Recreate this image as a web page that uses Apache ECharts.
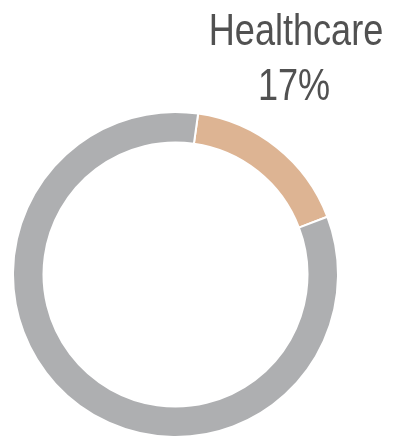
<!DOCTYPE html>
<html>
<head>
<meta charset="utf-8">
<script src="https://cdn.jsdelivr.net/npm/echarts@6/dist/echarts.min.js"></script>
<style>
  html, body { margin: 0; padding: 0; background: #ffffff; }
  #chart { width: 400px; height: 438px; }
</style>
</head>
<body>
<div id="chart"></div>
<script>
// Sector share: highlighted sector and the remainder of the total
const categories = ['Healthcare', 'Other'];
const values = [17, 83];
const colors = ['#DDB493', '#AEAFB1'];

const chart = echarts.init(document.getElementById('chart'), null, { renderer: 'canvas' });

// Condensed label look: regular sans squeezed horizontally
const labelFont = '44px "Liberation Sans", Arial, sans-serif';
const squeeze = 0.82;

function labelText(text, cx, cy) {
  return {
    type: 'text',
    x: cx,
    y: cy,
    scaleX: squeeze,
    style: {
      text: text,
      x: 0,
      y: 0,
      textAlign: 'center',
      textVerticalAlign: 'middle',
      font: labelFont,
      fill: '#515151'
    }
  };
}

chart.setOption({
  animation: false,
  backgroundColor: '#ffffff',
  graphic: [
    labelText(categories[0], 296, 33),
    labelText(values[0] + '%', 294, 88)
  ],
  series: [
    {
      type: 'pie',
      silent: true,
      center: [175.5, 274.5],
      radius: [132, 162.5],
      startAngle: 82,
      clockwise: true,
      label: { show: false },
      labelLine: { show: false },
      itemStyle: { borderColor: '#ffffff', borderWidth: 2 },
      data: categories.map((name, i) => ({
        name: name,
        value: values[i],
        itemStyle: { color: colors[i] }
      }))
    }
  ]
});
</script>
</body>
</html>
